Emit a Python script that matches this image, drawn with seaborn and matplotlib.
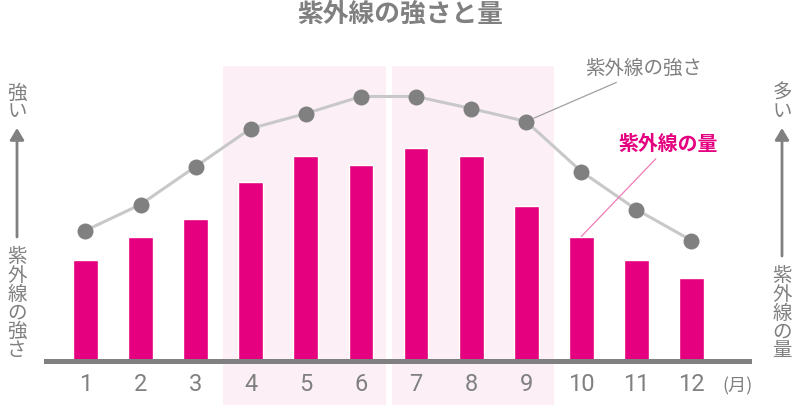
import numpy as np
import pandas as pd
import matplotlib
matplotlib.use("Agg")
import matplotlib.pyplot as plt
import seaborn as sns

# ---- data ----
months = ["1", "2", "3", "4", "5", "6", "7", "8", "9", "10", "11", "12"]
uv_amount = [101, 124, 142, 179, 205, 196, 213, 205, 155, 124, 101, 83]      # bars (紫外線の量)
uv_strength = [130, 156, 194, 232, 247, 264, 264, 252, 239, 189, 151, 120]   # line (紫外線の強さ)
shade_groups = [(3, 5), (6, 8)]   # month indices (0-based) of highlighted seasons

title = "紫外線の強さと量"
label_strength = "紫外線の強さ"
label_amount = "紫外線の量"
left_top, left_bottom = "強い", "紫外線の強さ"
right_top, right_bottom = "多い", "紫外線の量"
unit_label = "(月)"

MAGENTA = "#E4007F"
GRAY = "#808080"
LINEGRAY = "#C8C8C8"
SHADE = "#FCF0F6"

sns.set_style("white")
plt.rcParams["font.family"] = ["Noto Sans CJK JP", "DejaVu Sans"]

df = pd.DataFrame({"month": months, "amount": uv_amount, "strength": uv_strength})
df["pos"] = np.arange(len(df))

W, H = 800, 406
fig = plt.figure(figsize=(W / 100, H / 100), dpi=100)
ax = fig.add_axes([46 / W, 44.5 / H, 703 / W, 294.5 / H])

# shaded seasons
y0 = -44.5 / 294.5
ax.axvspan(shade_groups[0][0] - 0.5, shade_groups[0][1] + 0.455, ymin=y0, ymax=1,
           color=SHADE, lw=0, zorder=0, clip_on=False)
ax.axvspan(shade_groups[1][0] - 0.44, shade_groups[1][1] + 0.5, ymin=y0, ymax=1,
           color=SHADE, lw=0, zorder=0, clip_on=False)

sns.barplot(data=df, x="month", y="amount", color=MAGENTA, saturation=1,
            width=0.45, ax=ax, zorder=2, errorbar=None)
sns.lineplot(data=df, x="pos", y="strength", ax=ax, color=LINEGRAY, lw=2.2,
             marker="o", markersize=11.5, markerfacecolor=GRAY,
             markeredgecolor=GRAY, markeredgewidth=0, zorder=3)

ax.set_xlim(-0.717, 12.044)
ax.set_ylim(0, 294.5)
ax.set_xlabel("")
ax.set_ylabel("")
ax.set_yticks([])
ax.set_xticks(df["pos"])
ax.set_xticklabels(months, family=["Liberation Sans Narrow", "Roboto", "DejaVu Sans"],
                   fontsize=17, color=GRAY)
ax.tick_params(axis="x", length=0, pad=8)
for s in ["top", "left", "right"]:
    ax.spines[s].set_visible(False)
ax.spines["bottom"].set_color(GRAY)
ax.spines["bottom"].set_linewidth(3.6)
ax.spines["bottom"].set_zorder(4)
ax.patch.set_alpha(0)

# annotations
ax.annotate(label_strength, xy=(8, uv_strength[8]), xytext=(10.14, 293.5),
            ha="center", va="center", fontsize=14, color=GRAY, annotation_clip=False,
            arrowprops=dict(arrowstyle="-", color="#A0A0A0", lw=0.9,
                            relpos=(0.36, 0.0), shrinkA=3, shrinkB=6))
ax.annotate(label_amount, xy=(9, uv_amount[9]), xytext=(10.57, 218.5),
            ha="center", va="center", fontsize=14.3, fontweight="bold", color=MAGENTA,
            annotation_clip=False,
            arrowprops=dict(arrowstyle="-", color="#F07CB8", lw=0.9,
                            relpos=(0.44, 0.0), shrinkA=3, shrinkB=0))

# title and unit
fig.text(0.5, (H - 14) / H, title, ha="center", va="center", fontsize=18.5,
         fontweight="bold", color=GRAY)
fig.text(738 / W, (H - 386.5) / H, unit_label, ha="center", va="center",
         fontsize=13, color=GRAY)

# side vertical labels with arrows
def vtext(x, y, s):
    fig.text(x / W, (H - y) / H, "\n".join(s), ha="center", va="center",
             fontsize=14, color=GRAY, linespacing=0.86)

vtext(17, 102.5, left_top)
vtext(17, 303.5, left_bottom)
vtext(782, 102.5, right_top)
vtext(782, 313, right_bottom)

arrow = dict(arrowstyle="-|>,head_length=0.5,head_width=0.3", color=GRAY, lw=2,
             mutation_scale=14, shrinkA=0, shrinkB=0)
fig.add_artist(matplotlib.patches.FancyArrowPatch((17 / W, (H - 238) / H), (17 / W, (H - 129) / H),
                                                  transform=fig.transFigure, **arrow))
fig.add_artist(matplotlib.patches.FancyArrowPatch((782 / W, (H - 257) / H), (782 / W, (H - 129) / H),
                                                  transform=fig.transFigure, **arrow))

fig.savefig("out.png", dpi=100)
